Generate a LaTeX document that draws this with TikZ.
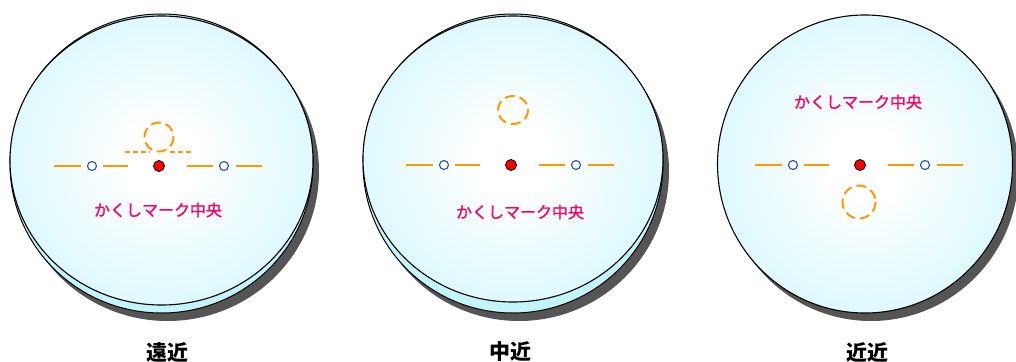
\documentclass[tikz,border=0pt]{standalone}
\usepackage{fontspec}
\newfontfamily\cjk{Noto Sans CJK JP}
\newfontfamily\cjkmed{Noto Sans CJK JP}[FakeBold=1.2]
\definecolor{diskedge}{RGB}{185,243,252}
\definecolor{diskmid}{RGB}{222,249,253}
\definecolor{lowerdisk}{RGB}{195,244,250}
\definecolor{markorange}{RGB}{255,153,0}
\definecolor{markblue}{RGB}{40,80,170}
\definecolor{textpink}{RGB}{255,0,102}
\definecolor{shadowgray}{RGB}{85,85,85}
\pgfdeclareradialshading{lensshade}{\pgfpoint{0bp}{0bp}}{color(0bp)=(white); color(6bp)=(white); color(25bp)=(diskmid); color(48bp)=(diskedge); color(72bp)=(diskedge)}
\tikzset{
  shadowdisk/.style={fill=shadowgray, draw=none},
  lowdisk/.style={fill=lowerdisk, draw=black, line width=1pt},
  topdisk/.style={shading=lensshade, draw=black, line width=1.1pt},
  seg/.style={draw=markorange, line width=2pt},
  dashcirc/.style={draw=markorange, line width=2pt, dash pattern=on 10pt off 5pt},
  dashseg/.style={draw=markorange, line width=2pt, dash pattern=on 5pt off 3pt},
  bluemark/.style={circle, draw=markblue, fill=white, line width=1.1pt, minimum size=9pt, inner sep=0pt},
  reddot/.style={circle, draw=black, fill=red, line width=0.8pt, minimum size=11pt, inner sep=0pt},
  marktext/.style={text=textpink, font=\cjkmed\fontsize{16}{18}\selectfont, inner sep=0pt},
  lenslabel/.style={font=\cjk\bfseries\fontsize{21}{24}\selectfont, inner sep=0pt}
}
\newcommand{\markrow}[1]{%
  \node[reddot] (#1c) at (0,0) {};
  \node[bluemark] (#1l) at (-67,0) {};
  \node[bluemark] (#1r) at (65,0) {};
  \draw[seg] (-105,0) -- (-78,0);
  \draw[seg] (-56,0) -- (-31,0);
  \draw[seg] (28,0) -- (54,0);
  \draw[seg] (77,0) -- (103,0);
}
\begin{document}
\begin{tikzpicture}[x=1pt,y=-1pt]
\useasboundingbox (0,0) rectangle (1016,361);
% ---------- lens 1 ----------
\fill[shadowdisk] (167.5,171.5) ellipse [x radius=151.5, y radius=149.5];
\draw[lowdisk] (161.5,163.5) ellipse [x radius=151.5, y radius=149.5];
\draw[topdisk] (161.5,160.5) ellipse [x radius=151.5, y radius=144.5];
\begin{scope}[shift={(159,166)}]
  \markrow{a}
  \draw[dashcirc] (0,-29) circle [radius=14.5];
  \draw[dashseg] (-34,-14) -- (-9,-14);
  \draw[dashseg] (11,-14) -- (35,-14);
\end{scope}
\node[marktext] (ta) at (158,210) {かくしマーク中央};
\node[lenslabel] (la) at (167,352) {遠近};
% ---------- lens 2 ----------
\fill[shadowdisk] (519,171.5) ellipse [x radius=150, y radius=149.5];
\draw[lowdisk] (513,163.5) ellipse [x radius=150, y radius=149.5];
\draw[topdisk] (513,159) ellipse [x radius=150, y radius=143];
\begin{scope}[shift={(511,165)}]
  \markrow{b}
  \draw[dashcirc] (2,-55) ellipse [x radius=15, y radius=14];
\end{scope}
\node[marktext] (tb) at (520,212) {かくしマーク中央};
\node[lenslabel] (lb) at (510,352) {中近};
% ---------- lens 3 ----------
\fill[shadowdisk] (871,172) ellipse [x radius=147.5, y radius=149];
\draw[topdisk] (865,164) ellipse [x radius=147.5, y radius=149];
\begin{scope}[shift={(860,165)}]
  \markrow{c}
  \draw[dashcirc] (-1,37) circle [radius=16.5];
\end{scope}
\node[marktext] (tc) at (858,102) {かくしマーク中央};
\node[lenslabel] (lc) at (867,352) {近近};
\end{tikzpicture}
\end{document}
